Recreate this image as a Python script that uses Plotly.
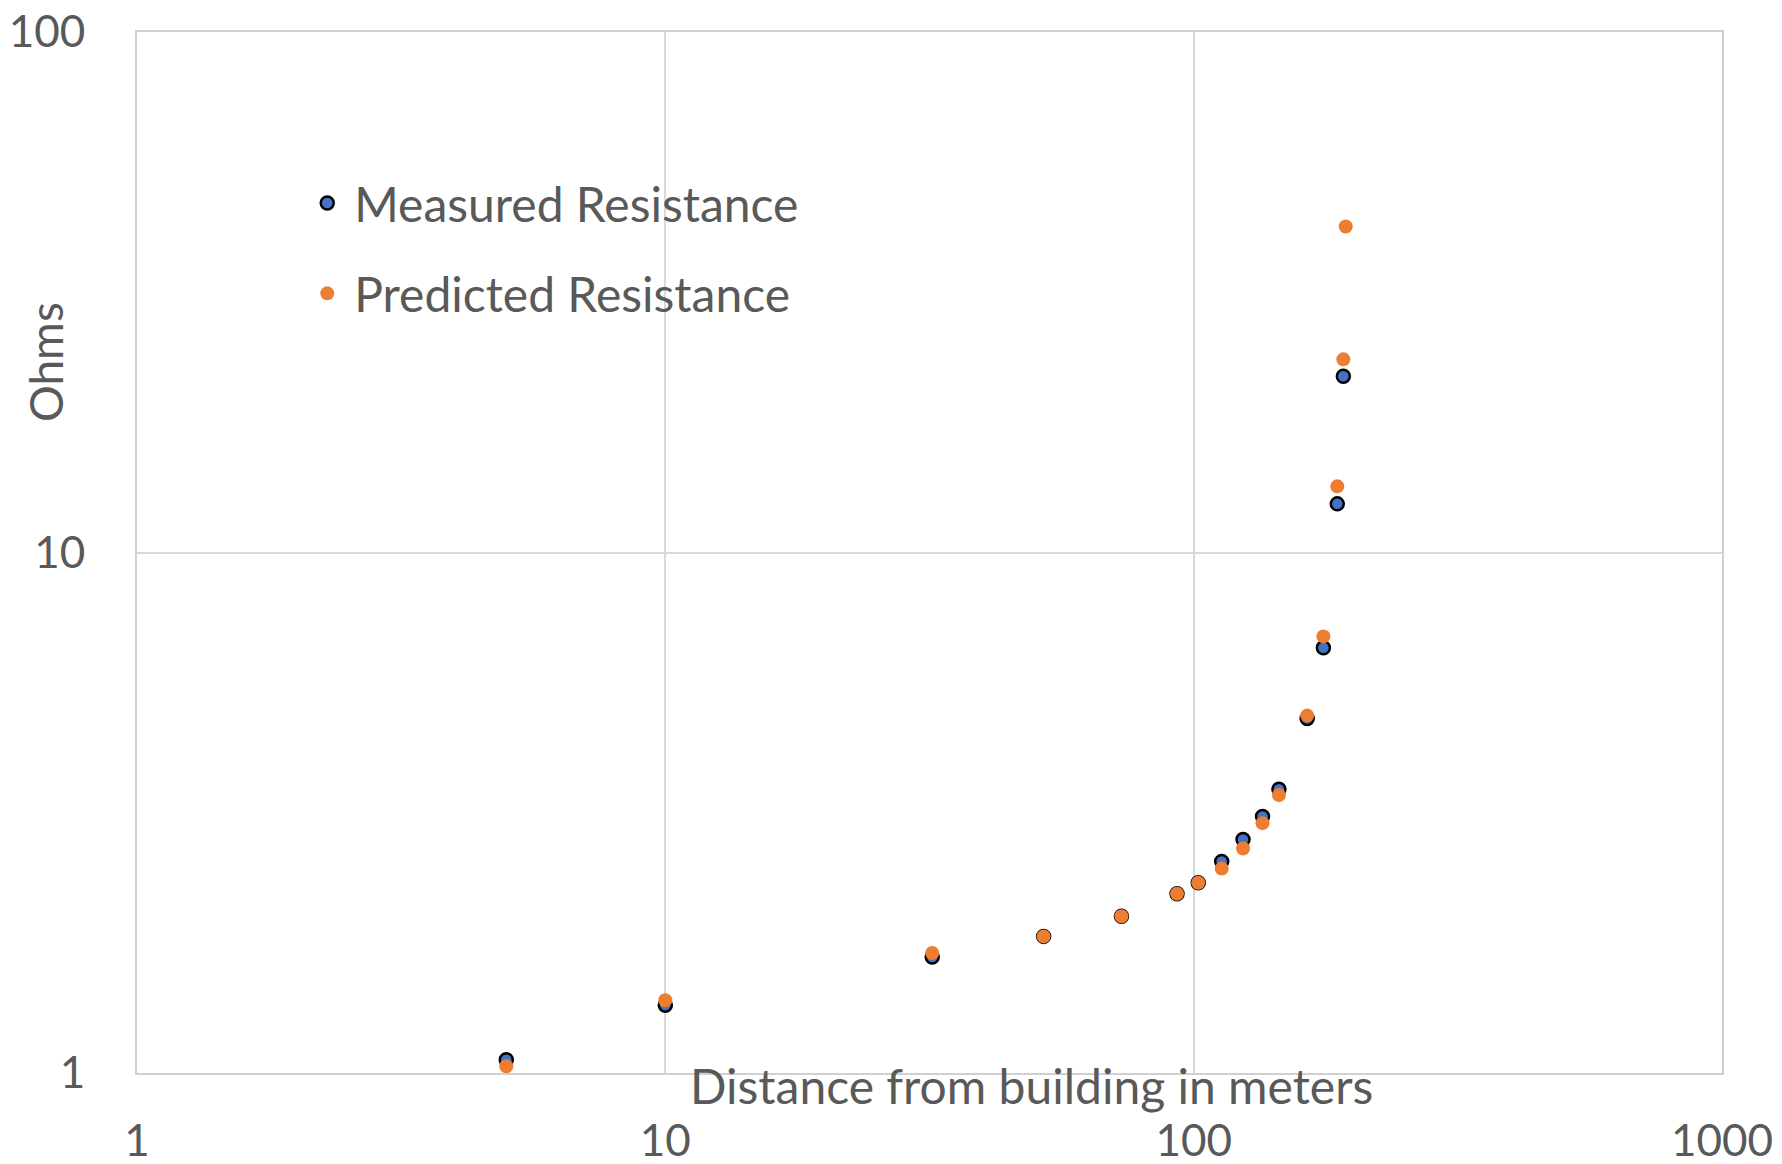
import plotly.graph_objects as go

distance_measured = [5, 10, 32, 52, 73, 93, 102, 113, 124, 135, 145, 164, 176, 187, 192]
measured = [1.06, 1.35, 1.67, 1.83, 2.0, 2.21, 2.32, 2.55, 2.81, 3.11, 3.51, 4.80, 6.56, 12.4, 21.8]
distance_predicted = [5, 10, 32, 52, 73, 93, 102, 113, 124, 135, 145, 164, 176, 187, 192, 194]
predicted = [1.03, 1.38, 1.70, 1.83, 2.0, 2.21, 2.32, 2.47, 2.70, 3.02, 3.42, 4.86, 6.90, 13.4, 23.5, 42.3]

x_ticks = [1, 10, 100, 1000]
y_ticks = [1, 10, 100]

FONT = "Lato"
TXT = "#595959"
GRID = "#D9D9D9"

fig = go.Figure()
fig.add_trace(go.Scatter(
    x=distance_measured, y=measured, mode="markers", name="Measured Resistance",
    legendgroup="m",
    marker=dict(size=13, color="#4472C4", line=dict(color="#000000", width=2.5)),
))
fig.add_trace(go.Scatter(
    x=distance_predicted, y=predicted, mode="markers", name="Predicted Resistance",
    legendgroup="p",
    marker=dict(size=14, color="#ED7D31", line=dict(width=0)),
))

fig.update_layout(
    width=1782, height=1164,
    margin=dict(l=137, r=60, t=32, b=91, autoexpand=False),
    paper_bgcolor="white", plot_bgcolor="white",
    font=dict(family=FONT, color=TXT, size=44),
    showlegend=True,
    legend=dict(
        x=0.103, y=0.872, xanchor="left", yanchor="top",
        bgcolor="rgba(0,0,0,0)", borderwidth=0,
        font=dict(family=FONT, size=48, color=TXT),
        tracegroupgap=25, itemsizing="trace", itemwidth=44,
    ),
    xaxis=dict(
        type="log", range=[0, 3], tickvals=x_ticks, ticktext=[str(v) for v in x_ticks],
        showgrid=True, gridcolor=GRID, gridwidth=2, automargin=False,
        showline=True, linecolor="#D0D0D0", linewidth=2, mirror=True,
        ticks="", ticklabelstandoff=28, zeroline=False,
        tickfont=dict(size=44, color=TXT, family=FONT),
    ),
    yaxis=dict(
        type="log", range=[0, 2], tickvals=y_ticks, ticktext=[str(v) for v in y_ticks],
        showgrid=True, gridcolor=GRID, gridwidth=2, automargin=False,
        showline=True, linecolor="#D0D0D0", linewidth=2, mirror=True,
        ticks="", ticklabelstandoff=41, zeroline=False,
        tickfont=dict(size=44, color=TXT, family=FONT),
    ),
    annotations=[
        dict(text="Distance from building in meters", xref="paper", yref="paper",
             x=(1031 - 137) / 1585, y=-(1085 - 1073) / 1041, xanchor="center", yanchor="middle",
             showarrow=False, font=dict(size=48, color=TXT, family=FONT)),
        dict(text="Ohms", xref="paper", yref="paper",
             x=-(137 - 45) / 1585, y=1 - (362 - 32) / 1041, xanchor="center", yanchor="middle",
             textangle=-90, showarrow=False, font=dict(size=46, color=TXT, family=FONT)),
    ],
)

fig.write_html("out.html", config={"displayModeBar": False},
               post_script="document.body.style.margin='0';")
